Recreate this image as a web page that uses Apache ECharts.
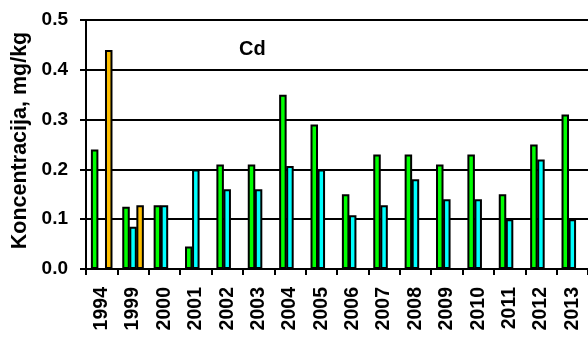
<!DOCTYPE html>
<html>
<head>
<meta charset="utf-8">
<script src="https://cdn.jsdelivr.net/npm/echarts@6/dist/echarts.min.js"></script>
<style>
html,body{margin:0;padding:0;background:#fff;}
#chart{width:588px;height:338px;}
</style>
</head>
<body>
<div id="chart"></div>
<script>
var years = ['1994','1999','2000','2001','2002','2003','2004','2005','2006','2007','2008','2009','2010','2011','2012','2013'];
var seriesGreen = [0.24, 0.125, 0.128, 0.045, 0.21, 0.21, 0.35, 0.29, 0.15, 0.23, 0.23, 0.21, 0.23, 0.15, 0.25, 0.31];
var seriesCyan = [null, 0.085, 0.128, 0.20, 0.16, 0.16, 0.207, 0.20, 0.108, 0.128, 0.18, 0.14, 0.14, 0.10, 0.22, 0.10];
var seriesOrange = [0.44, 0.128, null, null, null, null, null, null, null, null, null, null, null, null, null, null];
var yTicks = ['0.0','0.1','0.2','0.3','0.4','0.5'];
var titleText = 'Cd';
var yName = 'Koncentracija, mg/kg';

var FONT = 'Arial, "Liberation Sans", sans-serif';
var chart = echarts.init(document.getElementById('chart'), null, {renderer: 'canvas'});
function barSeries(name, data, color) {
  return {
    name: name, type: 'bar', data: data,
    barWidth: 7.5, barGap: '-6%',
    itemStyle: {color: color, borderColor: '#000', borderWidth: 2},
    animation: false
  };
}
chart.setOption({
  animation: false,
  title: {
    text: titleText, left: 234, top: 34,
    textStyle: {fontFamily: FONT, fontWeight: 'bold', fontSize: 20, color: '#000'}
  },
  grid: {left: 86, right: 0, top: 20, bottom: 69, containLabel: false},
  xAxis: {
    type: 'category', data: years, boundaryGap: true,
    axisLine: {show: true, lineStyle: {color: '#000', width: 2}},
    axisTick: {show: true, length: 6, lineStyle: {color: '#000', width: 2}},
    axisLabel: {rotate: 90, margin: 18, interval: 0, color: '#000', fontFamily: FONT, fontWeight: 'bold', fontSize: 19.5}
  },
  yAxis: {
    type: 'value', min: 0, max: 0.5, interval: 0.1,
    name: yName, nameLocation: 'middle', nameGap: 48,
    nameTextStyle: {fontFamily: FONT, fontWeight: 'bold', fontSize: 21.5, color: '#000', padding: [0, 0, 0, 8]},
    axisLine: {show: true, lineStyle: {color: '#000', width: 2}},
    axisTick: {show: true, length: 6, lineStyle: {color: '#000', width: 2}},
    splitLine: {show: true, lineStyle: {color: '#000', width: 2}},
    axisLabel: {
      margin: 18, color: '#000', fontFamily: FONT, fontWeight: 'bold', fontSize: 19,
      formatter: function (v) { return yTicks[Math.round(v * 10)]; }
    }
  },
  series: [
    barSeries('A', seriesGreen, '#00ff00'),
    barSeries('B', seriesCyan, '#00ffff'),
    barSeries('C', seriesOrange, '#ffc000')
  ]
});
</script>
</body>
</html>
